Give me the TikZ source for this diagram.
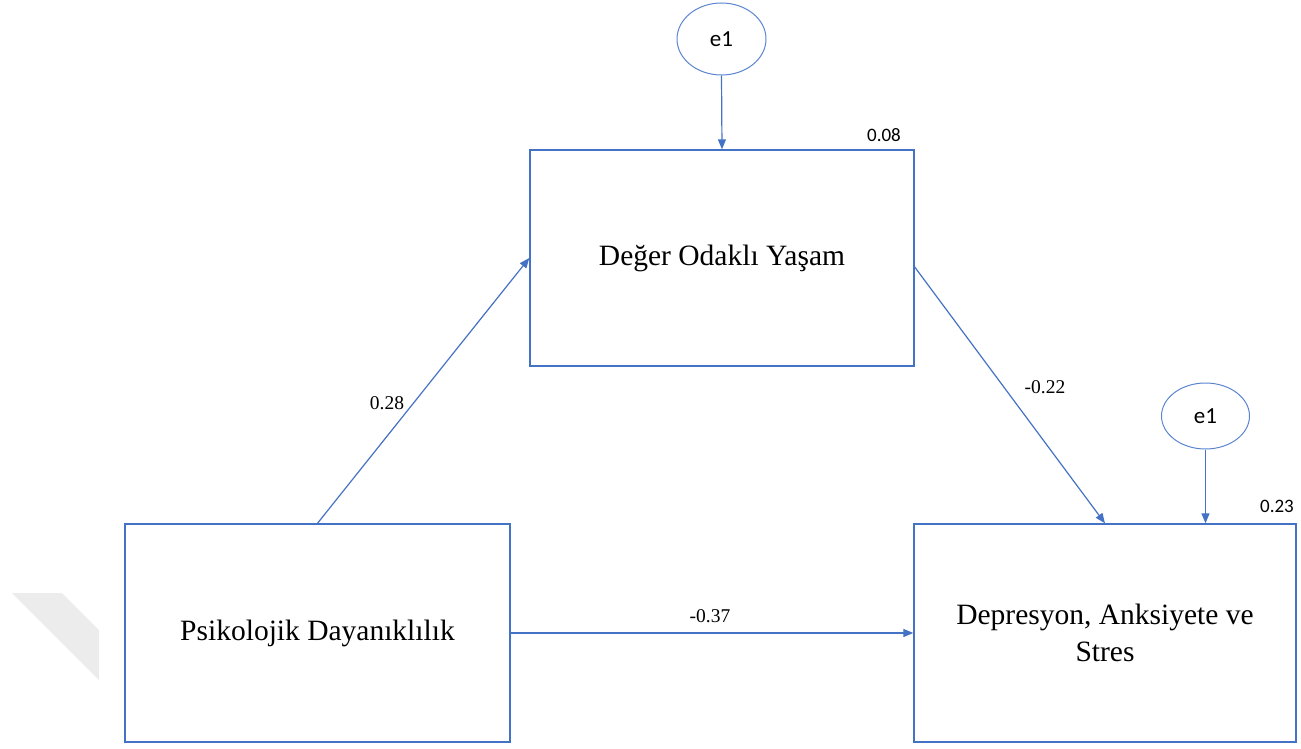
\documentclass[tikz,border=0pt]{standalone}
\usepackage{fontspec}
\setmainfont{Liberation Serif}
\newfontfamily\calib{Carlito}
\usetikzlibrary{arrows.meta,shapes.geometric}
\definecolor{pathblue}{HTML}{4472C4}
\definecolor{ringblue}{HTML}{5B85D0}
\tikzset{
  varbox/.style={draw=pathblue, line width=1.4pt, minimum width=#1, align=center,
    font=\fontsize{29.5}{37}\selectfont, inner sep=0pt},
  errnode/.style={ellipse, draw=ringblue, line width=1pt, inner sep=0pt,
    font=\calib\fontsize{23}{26}\selectfont},
  path/.style={draw=pathblue, line width=1.2pt,
    -{Triangle[length=10pt,width=8pt]}},
  coef/.style={font=\fontsize{19.5}{22}\selectfont, inner sep=0pt},
  rsq/.style={font=\calib\fontsize{19}{22}\selectfont, inner sep=0pt}
}
\begin{document}
\begin{tikzpicture}[x=1pt,y=-1pt]
  \useasboundingbox (0,0) rectangle (1301,749);
  % faint watermark shape at the left margin
  \fill[gray!15] (12,593) -- (62,593) -- (99,630) -- (99,680) -- cycle;

  % observed variables
  \node[varbox=384pt, minimum height=216pt] (dv) at (722,258) {De\u{g}er Odakl\i{} Ya\c{s}am};
  \node[varbox=385pt, minimum height=218pt] (ps) at (317.5,633) {Psikolojik Dayan\i{}kl\i{}l\i{}k};
  \node[varbox=382pt, minimum height=218pt] (dap) at (1105,633) {Depresyon, Anksiyete ve\\Stres};

  % error terms
  \node[errnode, minimum width=89pt, minimum height=72pt] (e1) at (721.5,39) {e1};
  \node[errnode, minimum width=88pt, minimum height=66pt] (e2) at (1205.5,416) {e1};

  % paths
  \draw[path] (e1.south) -- (dv.north);
  \draw[path] (e2.south) -- (e2.south |- dap.north);
  \draw[path] (ps.north) -- (dv.west);
  \draw[path] ([yshift=-9pt]dv.east) -- (dap.north);
  \draw[path] (ps.east) -- (dap.west);

  % coefficients
  \node[coef] (c1) at (387,403) {0.28};
  \node[coef] (c2) at (1045,387) {-0.22};
  \node[coef] (c3) at (710,616) {-0.37};
  \node[rsq] (r1) at (884,135) {0.08};
  \node[rsq] (r2) at (1277,506) {0.23};
\end{tikzpicture}
\end{document}
